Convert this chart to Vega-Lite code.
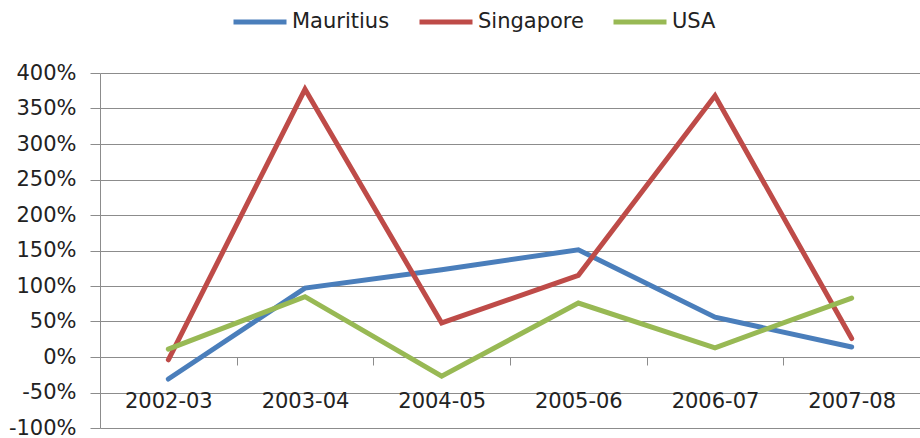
{
  "$schema": "https://vega.github.io/schema/vega-lite/v6.json",
  "width": 820,
  "height": 355,
  "autosize": {"type": "none"},
  "padding": {"left": 100, "top": 73, "right": 0, "bottom": 10},
  "background": "white",
  "data": {
    "values": [
      {"year": "2002-03", "country": "Mauritius", "value": -0.31},
      {"year": "2003-04", "country": "Mauritius", "value": 0.97},
      {"year": "2004-05", "country": "Mauritius", "value": 1.23},
      {"year": "2005-06", "country": "Mauritius", "value": 1.51},
      {"year": "2006-07", "country": "Mauritius", "value": 0.56},
      {"year": "2007-08", "country": "Mauritius", "value": 0.14},
      {"year": "2002-03", "country": "Singapore", "value": -0.04},
      {"year": "2003-04", "country": "Singapore", "value": 3.77},
      {"year": "2004-05", "country": "Singapore", "value": 0.48},
      {"year": "2005-06", "country": "Singapore", "value": 1.15},
      {"year": "2006-07", "country": "Singapore", "value": 3.68},
      {"year": "2007-08", "country": "Singapore", "value": 0.26},
      {"year": "2002-03", "country": "USA", "value": 0.11},
      {"year": "2003-04", "country": "USA", "value": 0.85},
      {"year": "2004-05", "country": "USA", "value": -0.27},
      {"year": "2005-06", "country": "USA", "value": 0.76},
      {"year": "2006-07", "country": "USA", "value": 0.13},
      {"year": "2007-08", "country": "USA", "value": 0.83}
    ]
  },
  "mark": {"type": "line", "strokeWidth": 5, "strokeJoin": "miter", "strokeCap": "round"},
  "encoding": {
    "x": {
      "field": "year",
      "type": "nominal",
      "bandPosition": 0.5,
      "scale": {"type": "band", "paddingInner": 0, "paddingOuter": 0},
      "axis": {
        "title": null,
        "offset": -71,
        "domain": false,
        "grid": false,
        "tickBand": "extent",
        "tickSize": 8,
        "tickColor": "#8c8c8c",
        "labelAngle": 0,
        "labelFont": "DejaVu Sans",
        "labelFontSize": 21,
        "labelColor": "#222222",
        "labelPadding": 25
      }
    },
    "y": {
      "field": "value",
      "type": "quantitative",
      "scale": {"domain": [-1, 4], "nice": false, "zero": false},
      "axis": {
        "title": null,
        "values": [-1, -0.5, 0, 0.5, 1, 1.5, 2, 2.5, 3, 3.5, 4],
        "format": ".0%",
        "labelExpr": "replace(datum.label, '−', '-')",
        "grid": true,
        "gridColor": "#8c8c8c",
        "gridWidth": 1,
        "domainColor": "#8c8c8c",
        "tickColor": "#8c8c8c",
        "tickSize": 10,
        "labelFont": "DejaVu Sans",
        "labelFontSize": 21,
        "labelColor": "#222222",
        "labelPadding": 14
      }
    },
    "color": {
      "field": "country",
      "type": "nominal",
      "scale": {"domain": ["Mauritius", "Singapore", "USA"], "range": ["#4A7EBB", "#BE4B48", "#98B954"]},
      "legend": {
        "title": null,
        "orient": "none",
        "direction": "horizontal",
        "legendX": 131,
        "legendY": -80,
        "symbolType": "stroke",
        "symbolSize": 2809,
        "symbolStrokeWidth": 5,
        "labelFont": "DejaVu Sans",
        "labelFontSize": 21,
        "labelColor": "#222222",
        "labelOffset": 3,
        "columnPadding": 19
      }
    }
  },
  "config": {"view": {"stroke": null}}
}
